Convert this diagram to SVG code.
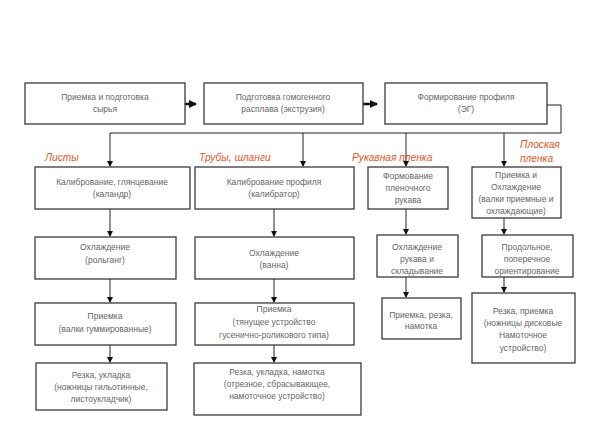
<svg xmlns="http://www.w3.org/2000/svg" width="597" height="447" viewBox="0 0 597 447">
<style>
.box{fill:#fff;stroke:#3a3a3a;stroke-width:1.3}
.t{font-family:"Liberation Sans",Arial,sans-serif;font-size:8.5px;fill:#666;text-anchor:middle}
.lbl{font-family:"Liberation Sans",Arial,sans-serif;font-size:10.2px;font-style:italic;fill:#e2572c}
.c{fill:none;stroke:#222;stroke-width:1}
.ct{fill:none;stroke:#111;stroke-width:2.6}
</style>
<defs>
<marker id="a" markerWidth="6" markerHeight="6" refX="5" refY="3" orient="auto" markerUnits="userSpaceOnUse"><path d="M0,0 L6,3 L0,6 Z" fill="#111"/></marker>
<marker id="at" markerWidth="8" markerHeight="8" refX="7" refY="4" orient="auto" markerUnits="userSpaceOnUse"><path d="M0,0 L8,4 L0,8 Z" fill="#111"/></marker>
</defs>
<rect width="597" height="447" fill="#fff"/>
<g id="connectors">
<path class="ct" d="M185,104 H196" marker-end="url(#at)"/>
<path class="ct" d="M363,104 H377" marker-end="url(#at)"/>
<path class="c" d="M547,105 H561 V133 H110 V166" marker-end="url(#a)"/>
<path class="c" d="M303,133 V166" marker-end="url(#a)"/>
<path class="c" d="M406,133 V166" marker-end="url(#a)"/>
<path class="c" d="M504,133 V166" marker-end="url(#a)"/>
<path class="c" d="M110,209 V236" marker-end="url(#a)"/>
<path class="c" d="M110,279 V302" marker-end="url(#a)"/>
<path class="c" d="M110,345 V362" marker-end="url(#a)"/>
<path class="c" d="M274,209 V236" marker-end="url(#a)"/>
<path class="c" d="M274,279 V302" marker-end="url(#a)"/>
<path class="c" d="M274,345 V362" marker-end="url(#a)"/>
<path class="c" d="M406,209 V234" marker-end="url(#a)"/>
<path class="c" d="M406,277 V297" marker-end="url(#a)"/>
<path class="c" d="M504,218 V234" marker-end="url(#a)"/>
<path class="c" d="M504,277 V292" marker-end="url(#a)"/>
</g>
<g id="n1"><rect class="box" x="25" y="83" width="160" height="41"/><text class="t" x="105" y="100">Приемка и подготовка</text><text class="t" x="105" y="112">сырья</text></g>
<g id="n2"><rect class="box" x="204" y="83" width="159" height="41"/><text class="t" x="283" y="100">Подготовка гомогенного</text><text class="t" x="283" y="112">расплава (экструзия)</text></g>
<g id="n3"><rect class="box" x="385" y="83" width="162" height="41"/><text class="t" x="466" y="100">Формирование профиля</text><text class="t" x="466" y="112">(ЭГ)</text></g>
<g id="labels">
<text class="lbl" x="45" y="161">Листы</text>
<text class="lbl" x="199" y="161">Трубы, шланги</text>
<text class="lbl" x="352" y="161">Рукавная пленка</text>
<text class="lbl" x="520" y="148">Плоская</text>
<text class="lbl" x="520" y="162">пленка</text>
</g>
<g id="l1"><rect class="box" x="35" y="167" width="155" height="42"/><text class="t" x="112" y="185">Калибрование, глянцевание</text><text class="t" x="112" y="197">(каландр)</text></g>
<g id="l2"><rect class="box" x="35" y="237" width="141" height="42"/><text class="t" x="105" y="250">Охлаждение</text><text class="t" x="105" y="263">(рольганг)</text></g>
<g id="l3"><rect class="box" x="35" y="303" width="141" height="42"/><text class="t" x="105" y="319">Приемка</text><text class="t" x="105" y="332">(валки гуммированные)</text></g>
<g id="l4"><rect class="box" x="36" y="363" width="131" height="47"/><text class="t" x="101" y="378">Резка, укладка</text><text class="t" x="101" y="390">(ножницы гильотинные,</text><text class="t" x="101" y="402">листоукладчик)</text></g>
<g id="t1"><rect class="box" x="195" y="167" width="159" height="42"/><text class="t" x="274" y="185">Калибрование профиля</text><text class="t" x="274" y="197">(калибратор)</text></g>
<g id="t2"><rect class="box" x="195" y="237" width="159" height="42"/><text class="t" x="274" y="256">Охлаждение</text><text class="t" x="274" y="268">(ванна)</text></g>
<g id="t3"><rect class="box" x="195" y="303" width="159" height="42"/><text class="t" x="274" y="312">Приемка</text><text class="t" x="274" y="325">(тянущее устройство</text><text class="t" x="274" y="338">гусенично-роликового типа)</text></g>
<g id="t4"><rect class="box" x="194" y="363" width="167" height="52"/><text class="t" x="277" y="375">Резка, укладка, намотка</text><text class="t" x="277" y="387">(отрезное, сбрасывающее,</text><text class="t" x="277" y="399">намоточное устройство)</text></g>
<g id="r1"><rect class="box" x="368" y="167" width="80" height="42"/><text class="t" x="408" y="179">Формование</text><text class="t" x="408" y="191">пленочного</text><text class="t" x="408" y="203">рукава</text></g>
<g id="r2"><rect class="box" x="377" y="235" width="81" height="42"/><text class="t" x="417" y="250">Охлаждение</text><text class="t" x="417" y="262">рукава и</text><text class="t" x="417" y="274">складывание</text></g>
<g id="r3"><rect class="box" x="382" y="298" width="79" height="41"/><text class="t" x="421" y="318">Приемка, резка,</text><text class="t" x="421" y="329">намотка</text></g>
<g id="p1"><rect class="box" x="472" y="167" width="89" height="51"/><text class="t" x="516" y="178">Приемка и</text><text class="t" x="516" y="190">Охлаждение</text><text class="t" x="516" y="202">(валки приемные и</text><text class="t" x="516" y="214">охлаждающие)</text></g>
<g id="p2"><rect class="box" x="482" y="235" width="91" height="42"/><text class="t" x="527" y="250">Продольное,</text><text class="t" x="527" y="262">поперечное</text><text class="t" x="527" y="274">ориентирование</text></g>
<g id="p3"><rect class="box" x="472" y="293" width="103" height="70"/><text class="t" x="523" y="314">Резка, приемка</text><text class="t" x="523" y="326">(ножницы дисковые</text><text class="t" x="523" y="338">Намоточное</text><text class="t" x="523" y="351">устройство)</text></g>
</svg>
